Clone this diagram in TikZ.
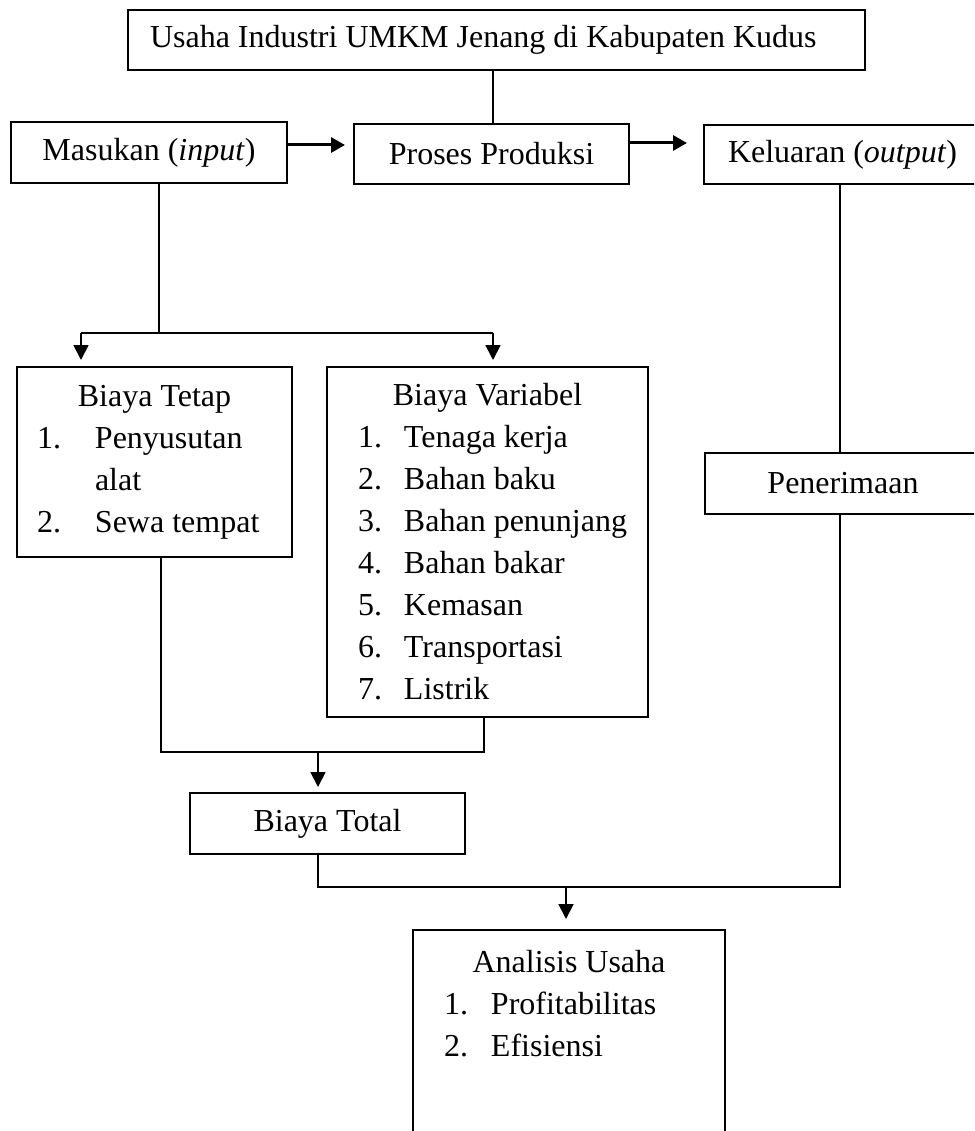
\documentclass[tikz,border=0pt]{standalone}
\usepackage{fontspec}
\setmainfont{Liberation Serif}
\usetikzlibrary{arrows.meta}
\setlength{\parindent}{0pt}
\hyphenpenalty=10000
\exhyphenpenalty=10000
\begin{document}
\begin{tikzpicture}[x=1pt,y=-1pt,
  box/.style={draw, line width=2pt, rectangle, anchor=north west, inner sep=0pt,
    font=\fontsize{32}{42}\selectfont,
    execute at begin node={\spaceskip=0pt\xspaceskip=0pt\relax}},
  listbox/.style={box, align=left},
  conn/.style={line width=1.8pt},
  varr/.style={conn, -{Triangle[width=15pt,length=15pt]}, shorten >=6pt},
  harr/.style={line width=3pt, -{Triangle[width=15pt,length=14pt]}},
]
\useasboundingbox (0,0) rectangle (974,1131);
\clip (0,0) rectangle (974,1131);

% boxes
\node[box, align=left, inner xsep=22pt, text width=693pt, minimum height=60pt] (top) at (127,9)
  {Usaha Industri UMKM Jenang di Kabupaten Kudus};
\node[box, minimum width=276pt, minimum height=61pt] (mas) at (10,121)
  {Masukan (\textit{input})};
\node[box, minimum width=275pt, minimum height=60pt] (proses) at (353,123)
  {Proses Produksi};
\node[box, minimum width=277pt, minimum height=59pt] (kel) at (703,124)
  {Keluaran (\textit{output})};
\node[box, minimum width=276pt, minimum height=61pt] (pen) at (704,452)
  {Penerimaan};
\node[box, minimum width=275pt, minimum height=61pt] (total) at (189,792)
  {Biaya Total};

\node[listbox, inner xsep=20pt, text width=235pt, minimum height=190pt] (tetap) at (16,366)
  {{\centering Biaya Tetap\par}
   \makebox[58pt][l]{1.}Penyusutan\par
   \hspace*{58pt}alat\par
   \makebox[58pt][l]{2.}Sewa tempat};

\node[listbox, inner xsep=8pt, text width=305pt, minimum height=350pt] (var) at (326,366)
  {{\centering Biaya Variabel\par}
   \hspace*{23pt}\makebox[46pt][l]{1.}Tenaga kerja\par
   \hspace*{23pt}\makebox[46pt][l]{2.}Bahan baku\par
   \hspace*{23pt}\makebox[46pt][l]{3.}Bahan penunjang\par
   \hspace*{23pt}\makebox[46pt][l]{4.}Bahan bakar\par
   \hspace*{23pt}\makebox[46pt][l]{5.}Kemasan\par
   \hspace*{23pt}\makebox[46pt][l]{6.}Transportasi\par
   \hspace*{23pt}\makebox[46pt][l]{7.}Listrik};

\node[listbox, inner xsep=31pt, inner ysep=20pt, text width=250pt] (ana) at (412,929)
  {{\centering Analisis Usaha\par}
   \makebox[47pt][l]{1.}Profitabilitas\par
   \makebox[47pt][l]{2.}Efisiensi\par
   \rule{0pt}{220pt}};

% junction coordinates
\coordinate (jL) at (81,333);
\coordinate (jM) at (159,333);
\coordinate (jR) at (493,333);
\coordinate (kL) at (161,752);
\coordinate (kM) at (318,752);
\coordinate (kR) at (484,752);
\coordinate (mL) at (318,887);
\coordinate (mM) at (566,887);
\coordinate (mR) at (840,887);

% connectors
\draw[conn] (top.south -| jR) -- (proses.north -| jR);
\draw[harr, shorten >=8pt] (mas.east |- 0,145) -- (proses.west |- 0,145);
\draw[harr, shorten >=16pt] (proses.east |- 0,143) -- (kel.west |- 0,143);

\draw[conn] (mas.south -| jM) -- (jM);
\draw[conn] (jL) -- (jR);
\draw[varr] (jL) -- (jL |- tetap.north);
\draw[varr] (jR) -- (jR |- var.north);

\draw[conn] (tetap.south -| kL) -- (kL) -- (kR) -- (var.south -| kR);
\draw[varr, shorten >=5pt] (kM) -- (kM |- total.north);

\draw[conn] (kel.south -| mR) -- (pen.north -| mR);
\draw[conn] (total.south -| mL) -- (mL) -- (mR) -- (pen.south -| mR);
\draw[varr, shorten >=10pt] (mM) -- (mM |- ana.north);
\end{tikzpicture}
\end{document}
